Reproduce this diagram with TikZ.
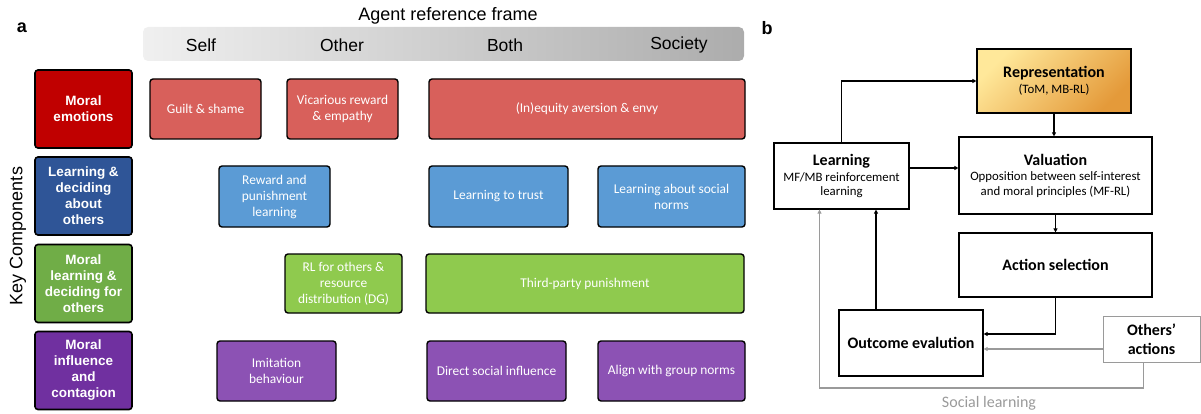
\documentclass[tikz,border=0pt]{standalone}
\usepackage{fontspec}
\setmainfont{Carlito}
\newfontfamily\arial{Liberation Sans}
\usetikzlibrary{arrows.meta}

\definecolor{emoDark}{HTML}{C00000}
\definecolor{lrnDark}{HTML}{2F5597}
\definecolor{molDark}{HTML}{70AD47}
\definecolor{infDark}{HTML}{7030A0}
\definecolor{emoLight}{HTML}{D8605B}
\definecolor{lrnLight}{HTML}{5B9BD5}
\definecolor{molLight}{HTML}{8FCA4E}
\definecolor{infLight}{HTML}{8C52B4}
\definecolor{repTop}{HTML}{FFE89A}
\definecolor{repBot}{HTML}{E49A3A}
\definecolor{socGray}{HTML}{9A9A9A}
\newcommand\ttlfont{\bfseries\fontsize{16}{19}\selectfont}

\begin{document}
\begin{tikzpicture}[x=1pt,y=-1pt,
  cat/.style={draw=black, line width=1.6pt, rounded corners=3pt, text=white, align=center,
    font=\arial\bfseries\fontsize{13.5}{16}\selectfont, minimum width=97pt, minimum height=78pt, inner sep=0pt},
  item/.style={draw=black, line width=1.4pt, rounded corners=3pt, text=white, align=center,
    font=\fontsize{13.4}{16}\selectfont, inner sep=0pt},
  sz/.style 2 args={minimum width=#1pt, minimum height=#2pt},
  frm/.style={font=\arial\fontsize{17.5}{20}\selectfont},
  blk/.style={draw=black, line width=1.2pt, align=center, inner sep=0pt, font=\fontsize{12.8}{14.5}\selectfont},
  ttl/.style={font=\ttlfont},
  arr/.style={line width=1.3pt, -{Triangle[length=4pt,width=4pt]}},
  garr/.style={arr, draw=socGray},
]
\useasboundingbox (0,0) rectangle (1201,414);

% panel a: reference frame
\node[font=\arial\bfseries\fontsize{18}{20}\selectfont] (laba) at (22,28) {a};
\shade[left color=gray!12, right color=gray!65, rounded corners=5pt] (143,27) rectangle (744,61);
\node[font=\arial\fontsize{18}{20}\selectfont] (agent) at (448,16) {Agent reference frame};
\node[frm] (self) at (201,45) {Self};
\node[frm] (other) at (342,45) {Other};
\node[frm] (both) at (505,45) {Both};
\node[frm] (soc) at (679,45) {Society};
\node[font=\arial\fontsize{18}{20}\selectfont, rotate=90] (key) at (18,236) {Key Components};

% panel a: key components
\node[cat, fill=emoDark] (emo) at (83.5,109) {Moral\\emotions};
\node[cat, fill=lrnDark] (lrn) at (83.5,196) {Learning \&\\deciding\\about\\others};
\node[cat, fill=molDark] (mol) at (83.5,283.5) {Moral\\learning \&\\deciding for\\others};
\node[cat, fill=infDark] (inf) at (83.5,370.5) {Moral\\influence\\and\\contagion};

% row 1
\node[item, fill=emoLight, sz={111}{60}] (guilt) at (205.5,109) {Guilt \& shame};
\node[item, fill=emoLight, sz={111}{60}] (vic) at (342.5,109) {Vicarious reward\\\& empathy};
\node[item, fill=emoLight, sz={316}{60}] (ineq) at (587,109) {(In)equity aversion \& envy};
% row 2
\node[item, fill=lrnLight, sz={111}{61}] (rew) at (274.5,196.5) {Reward and\\punishment\\learning};
\node[item, fill=lrnLight, sz={139}{61}] (trust) at (498.5,196.5) {Learning to trust};
\node[item, fill=lrnLight, sz={147}{61}] (norms) at (671.5,196.5) {Learning about social\\norms};
% row 3
\node[item, fill=molLight, sz={117}{59}] (rlo) at (343.5,283.5) {RL for others \&\\resource\\distribution (DG)};
\node[item, fill=molLight, sz={318}{59}] (tpp) at (585,283.5) {Third-party punishment};
% row 4
\node[item, fill=infLight, sz={119}{60}] (imit) at (276.5,371) {Imitation\\behaviour};
\node[item, fill=infLight, sz={139}{60}] (dsi) at (496.5,371) {Direct social influence};
\node[item, fill=infLight, sz={147}{60}] (grp) at (671.5,371) {Align with group norms};

% panel b
\node[font=\arial\bfseries\fontsize{18}{20}\selectfont] (labb) at (767,28) {b};
\node[blk, sz={154}{64}, top color=repTop, bottom color=repBot, shading angle=45] (rep) at (1054,81)
  {{\ttlfont Representation}\\[1pt](ToM, MB-RL)};
\node[blk, sz={135}{66}, fill=white] (learn) at (841.5,176) {{\ttlfont Learning}\\[1pt]MF/MB reinforcement\\learning};
\node[blk, sz={193}{77}, fill=white] (val) at (1055.5,175.5)
  {{\ttlfont Valuation}\\[1pt]Opposition between self-interest\\and moral principles (MF-RL)};
\node[blk, sz={193}{64}, fill=white, ttl] (act) at (1055.5,265) {Action selection};
\node[blk, sz={144}{66}, fill=white, ttl] (out) at (911,343) {Outcome evalution};
\node[blk, sz={97}{46}, fill=white, draw=socGray, line width=1pt, ttl] (oth) at (1151.5,339) {Others’\\actions};

% connectors
\draw[arr] (learn.north) |- (rep.west);
\draw[arr] (rep.south) -- (rep.south |- val.north);
\draw[arr] ([yshift=8pt]learn.east) -- ([yshift=8pt]learn.east -| val.west);
\draw[arr] (val.south) -- (act.north);
\draw[arr] (act.south) |- ([yshift=9pt]out.east);
\draw[arr] ([xshift=-35pt]out.north) -- ([xshift=-35pt]out.north |- learn.south);
\draw[garr] ([yshift=-10pt]oth.west) -- ([yshift=-10pt]oth.west -| out.east);
\coordinate (sl) at (989,388);
\draw[garr] ([xshift=-8pt]oth.south) |- (sl) -| ([xshift=-22pt]learn.south);
\node[text=socGray, font=\fontsize{16}{19}\selectfont] (sltext) at (989,403) {Social learning};
\end{tikzpicture}
\end{document}
